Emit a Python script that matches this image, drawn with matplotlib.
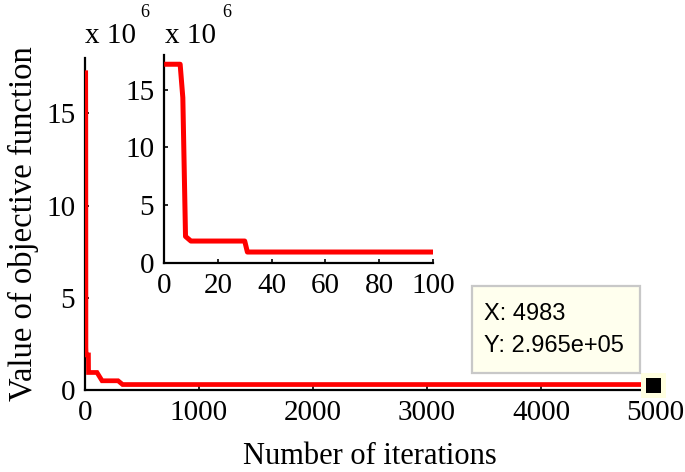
import matplotlib
matplotlib.use("Agg")
import matplotlib.pyplot as plt
from matplotlib.ticker import FuncFormatter

# Data: best objective value (change points) vs iteration
main_iter = [1, 6, 7, 8, 10, 30, 31, 105, 150, 290, 330, 5000]
main_val = [17.2e6, 17.2e6, 14.3e6, 2.3e6, 1.9e6, 1.9e6, 0.95e6, 0.95e6, 0.5e6, 0.5e6, 0.2965e6, 0.2965e6]

inset_iter = [1, 6, 7, 8, 10, 30, 31, 100]
inset_val = [17.2e6, 17.2e6, 14.3e6, 2.3e6, 1.9e6, 1.9e6, 0.95e6, 0.95e6]

tip_x = 4983
tip_y = 2.965e5

main_xticks = [0, 1000, 2000, 3000, 4000, 5000]
main_yticks = [0, 5e6, 10e6, 15e6]
inset_xticks = [0, 20, 40, 60, 80, 100]
inset_yticks = [0, 5e6, 10e6, 15e6]

W, H = 685, 472
fig = plt.figure(figsize=(W / 100, H / 100), dpi=100)
serif = ["Liberation Serif", "DejaVu Serif"]
plt.rcParams["font.family"] = serif
FS = 21

def px_axes(l, r, b, t):
    return [l / W, (H - b) / H, (r - l) / W, (b - t) / H]

fmt = FuncFormatter(lambda v, p: f"{v/1e6:g}")

def style(ax):
    for s in ["top", "right"]:
        ax.spines[s].set_visible(False)
    for s in ["left", "bottom"]:
        ax.spines[s].set_linewidth(1.6)
    ax.tick_params(direction="in", length=3, width=1.2, labelsize=FS, pad=7)
    ax.yaxis.set_major_formatter(fmt)
    ax.set_facecolor("none")

ax = fig.add_axes(px_axes(85, 655, 390, 58))
ax.plot(main_iter, main_val, color="red", lw=3.4, solid_joinstyle="miter", zorder=3)
ax.set_xlim(0, 5000)
ax.set_ylim(0, 18e6)
ax.set_xticks(main_xticks)
ax.set_yticks(main_yticks)
style(ax)
ax.set_xlabel("Number of iterations", fontsize=22, labelpad=12)
ax.set_ylabel("Value of objective function", fontsize=23.5, labelpad=5)

# data tip marker
ax.plot([tip_x], [tip_y], marker="s", markersize=15, markerfacecolor="black",
        markeredgecolor="#FFFFE0", markeredgewidth=3.6, zorder=5, clip_on=False)

ax2 = fig.add_axes(px_axes(164, 433, 263, 55))
ax2.plot(inset_iter, inset_val, color="red", lw=3.6, zorder=3)
ax2.set_xlim(0, 100)
ax2.set_ylim(0, 18e6)
ax2.set_xticks(inset_xticks)
ax2.set_yticks(inset_yticks)
style(ax2)

# exponent labels
for xl, xs in [(85, 140), (165, 222)]:
    fig.text(xl / W, (H - 43) / H, "x 10", fontsize=FS, ha="left", va="baseline")
    fig.text(xs / W, (H - 17) / H, "6", fontsize=13, ha="left", va="baseline")

# data tip box
box = plt.Rectangle((472 / W, (H - 373) / H), (640 - 472) / W, (373 - 286) / H,
                    transform=fig.transFigure, facecolor="#FFFFEE", edgecolor="#C8C8C8",
                    linewidth=1.6, zorder=10)
fig.add_artist(box)
sans = ["Liberation Sans", "DejaVu Sans"]
fig.text(484 / W, (H - 320) / H, f"X: {tip_x}", fontsize=17, family=sans, va="baseline", zorder=11)
fig.text(484 / W, (H - 352) / H, f"Y: {tip_y:.3e}", fontsize=17, family=sans, va="baseline", zorder=11)

fig.savefig("out.png", dpi=100)
